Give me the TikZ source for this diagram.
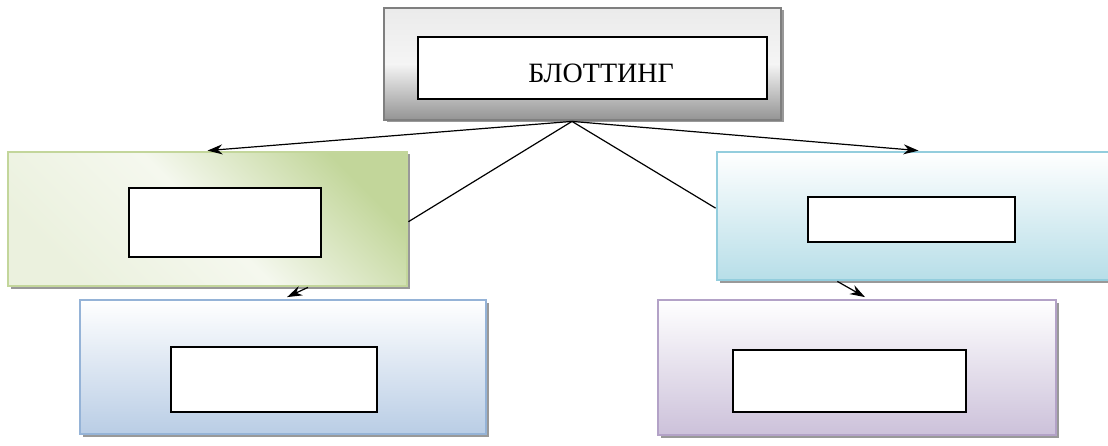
\documentclass[tikz,border=0pt]{standalone}
\usepackage{fontspec}
\setmainfont{Liberation Serif}
\usetikzlibrary{calc,arrows.meta,shadows}
\definecolor{grayB}{HTML}{7F7F7F}
\definecolor{greenB}{HTML}{C3D69B}
\definecolor{greenL}{HTML}{EBF1DE}
\definecolor{greenD}{HTML}{C2D69A}
\definecolor{cyanB}{HTML}{93CDDD}
\definecolor{cyanD}{HTML}{B7DEE8}
\definecolor{blueB}{HTML}{95B3D7}
\definecolor{blueD}{HTML}{B9CDE5}
\definecolor{purpB}{HTML}{B3A2C7}
\definecolor{purpD}{HTML}{CCC1DA}
\tikzset{
  outerbox/.style={rectangle, line width=2.8pt, inner sep=0pt,
    drop shadow={shadow xshift=2.5pt, shadow yshift=-2.5pt, fill=black!50, opacity=0.8}},
  innerbox/.style={rectangle, draw=black, line width=1.6pt, fill=white, inner sep=0pt},
  conn/.style={line width=1.2pt, draw=black},
  arr/.style={conn, -{Stealth[length=15pt,width=10pt]}},
}
\begin{document}
\begin{tikzpicture}[x=1pt,y=1pt]
\clip (0,0) rectangle (1108,445);
\fill[white] (0,0) rectangle (1108,445);
% outer boxes
\node[outerbox, draw=grayB, top color=black!8, bottom color=black!42, middle color=black!4,
  minimum width=397pt, minimum height=112pt] (T) at (582.5,381) {};
\node[outerbox, draw=greenB, left color=greenL, right color=greenD, middle color=white!50!greenL,
  shading angle=135, minimum width=399pt, minimum height=134pt] (L) at (207.5,226) {};
\node[outerbox, draw=cyanB, top color=white, bottom color=cyanD,
  minimum width=403pt, minimum height=128pt] (R) at (918.5,229) {};
\node[outerbox, draw=blueB, top color=white, bottom color=blueD,
  minimum width=406pt, minimum height=134pt] (BL) at (283,78) {};
\node[outerbox, draw=purpB, top color=white, bottom color=purpD,
  minimum width=398pt, minimum height=135pt] (BR) at (857,77.5) {};
% inner boxes
\node[innerbox, minimum width=349pt, minimum height=62pt] (Ti) at (592.5,377) {};
\node[font=\fontsize{28}{32}\selectfont, inner sep=0pt] (title) at (601,372) {БЛОТТИНГ};
\node[innerbox, minimum width=192pt, minimum height=69pt] (Li) at (225,222.5) {};
\node[innerbox, minimum width=207pt, minimum height=45pt] (Ri) at (911.5,225.5) {};
\node[innerbox, minimum width=206pt, minimum height=65pt] (BLi) at (274,65.5) {};
\node[innerbox, minimum width=233pt, minimum height=62pt] (BRi) at (849.5,64) {};
% connectors
\coordinate (hub) at ($(T.south)+(-10.5,0)$);
\draw[arr] (hub) -- (L.north);
\draw[arr] (hub) -- (R.north);
\draw[conn] (hub) -- ($(L.north east)!0.52!(L.south east)$);
\draw[conn] (hub) -- ($(R.north west)!0.44!(R.south west)$);
\draw[arr] ($(L.south west)!0.75!(L.south east)$) -- ($(BL.north west)!0.51!(BL.north east)+(0,1.5)$);
\draw[arr] ($(R.south west)!0.30!(R.south east)$) -- ($(BR.north west)!0.52!(BR.north east)+(0,1.5)$);
\end{tikzpicture}
\end{document}
